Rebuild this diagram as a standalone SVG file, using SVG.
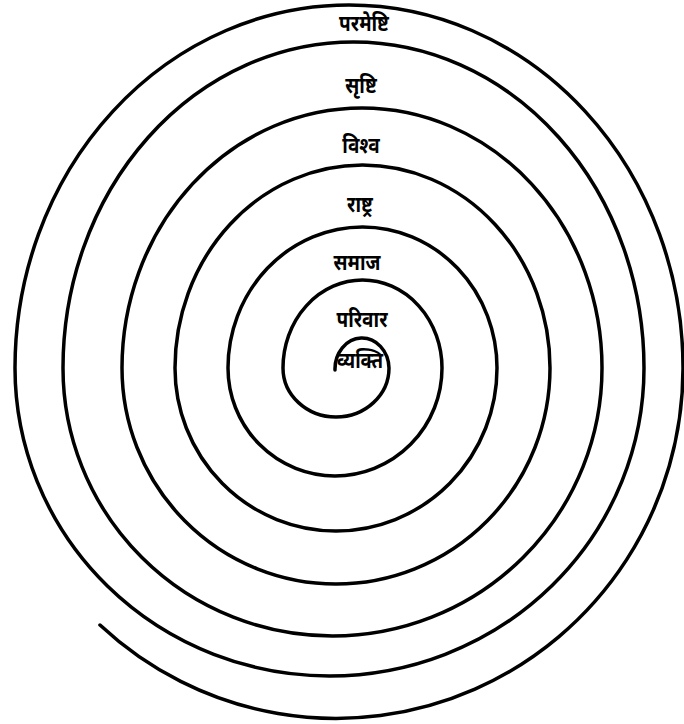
<svg xmlns="http://www.w3.org/2000/svg" width="684" height="724" viewBox="0 0 684 724">
<style>
.spiral{fill:none;stroke:#000;stroke-width:3.5;stroke-linecap:round;stroke-linejoin:round}
.lbl{font-family:"Noto Sans","DejaVu Sans",sans-serif;font-size:19px;font-weight:bold;fill:#000;text-anchor:middle}
</style>
<rect width="684" height="724" fill="#fff"/>
<g id="connectors">
<path class="spiral" d="M 335 370 A 27 31 0 0 1 389 368 A 53 49 0 0 1 283 368 A 79.5 88 0 0 1 442 368 A 107 108 0 0 1 228 368 A 134.5 141 0 0 1 497 368 A 161 163 0 0 1 175 368 A 187.5 203 0 0 1 550 368 A 214 216 0 0 1 122 368 A 240 260 0 0 1 602 368 A 269.5 268 0 0 1 63 368 A 290.5 326 0 0 1 644 368 A 314.5 308 0 0 1 15 368 A 334 363 0 0 1 683 368 A 347 350 0 0 1 100 625"/>
</g>
<g id="parameshti" transform="translate(364 31) scale(1 1.2)"><text class="lbl">परमेष्टि</text></g>
<g id="srishti" transform="translate(361 93) scale(1 1.2)"><text class="lbl">सृष्टि</text></g>
<g id="vishva" transform="translate(361 153) scale(1 1.2)"><text class="lbl">विश्व</text></g>
<g id="rashtra" transform="translate(360 212) scale(1 1.2)"><text class="lbl">राष्ट्र</text></g>
<g id="samaj" transform="translate(357 270) scale(1 1.2)"><text class="lbl">समाज</text></g>
<g id="parivar" transform="translate(362 327) scale(1 1.2)"><text class="lbl">परिवार</text></g>
<g id="vyakti" transform="translate(360 368) scale(1 1.2)"><text class="lbl" textLength="46" lengthAdjust="spacingAndGlyphs">व्यक्ति</text></g>
</svg>
